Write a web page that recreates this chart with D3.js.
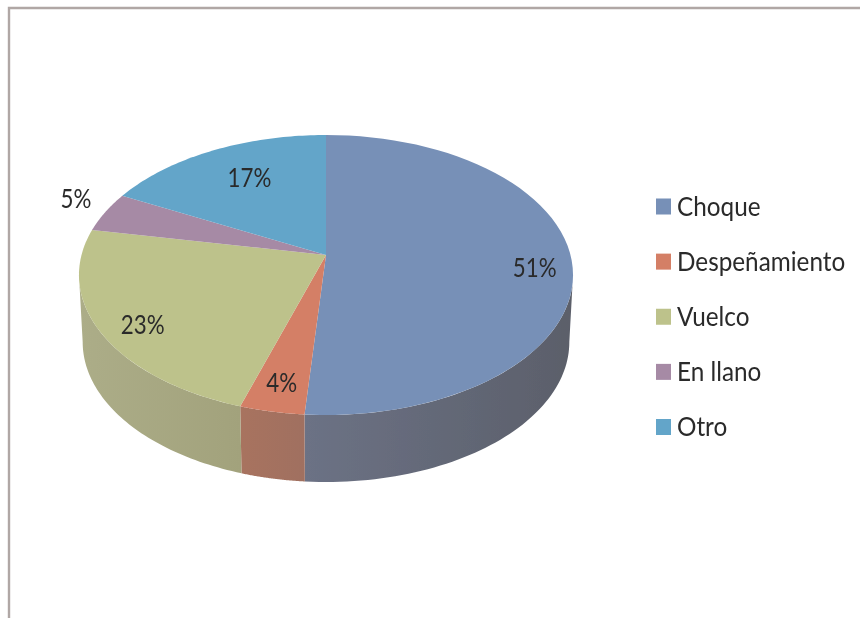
<!DOCTYPE html>
<html><head><meta charset="utf-8">
<script src="https://cdn.jsdelivr.net/npm/d3@7"></script>
<style>html,body{margin:0;padding:0;background:#fff}svg{display:block}
text{font-family:Lato,"Open Sans",sans-serif;fill:#2a2a2a}</style>
</head><body><svg id="c" width="860" height="618"></svg>
<script>
const categories = ["Choque","Despeñamiento","Vuelco","En llano","Otro"];
const values = [51.2,3.7,23.1,4.6,17.4];
const labels = ["51%","4%","23%","5%","17%"];
const colors = ["#7790b7","#d47f66","#bdc28b","#a68aa5","#63a5c9"];
const sideLeft = ["#6c7285","#a8735f","#acad88","#8d7a8c","#558da9"];
const sideRight = ["#5b5f6a","#a07060","#a2a27c","#8d7a8c","#558da9"];
const labelRadial = [0.85,0.84,0.82,1.14,0.65];
const labelShift = [8,0,9,-8,-7];

const svg = d3.select("#c");
const cx = 326, cy = 255, a = 244.5, b = 137.14, k = 1/7, depth = 67, shrink = 0.985;
const TAU = 2*Math.PI;
const proj = (t, r=1) => {
  const c = Math.cos(t), s = Math.sin(t), d = 1 + k*r*c;
  return [cx + a*r*s/d, cy - b*r*c/d];
};
const projB = t => {
  const c = Math.cos(t), s = Math.sin(t), d = 1 + k*c;
  return [cx + shrink*a*s/d, cy + depth - b*c/d];
};
const samples = (t0,t1,f) => d3.range(0,61).map(i => f(t0+(t1-t0)*i/60));
const line = d3.line();
const arcs = d3.pie().sort(null)(values);
const tanR = Math.acos(-k), tanL = TAU - tanR;

const defs = svg.append("defs");
const blur = defs.append("filter").attr("id","soft").attr("x","-5%").attr("y","-5%").attr("width","110%").attr("height","110%");
blur.append("feGaussianBlur").attr("stdDeviation",0.5);

const root = svg.append("g").attr("filter","url(#soft)");
root.append("path").attr("d","M9,618V8H860").attr("fill","none").attr("stroke","#b0a7a5").attr("stroke-width",2.4);

arcs.forEach((d,i) => {
  const t0 = Math.max(d.startAngle, tanR), t1 = Math.min(d.endAngle, tanL);
  if (t1 <= t0) return;
  const top = samples(t0,t1,proj), bot = samples(t0,t1,projB).reverse();
  const xs = top.concat(bot).map(p=>p[0]);
  const g = defs.append("linearGradient").attr("id","side"+i).attr("gradientUnits","userSpaceOnUse")
    .attr("x1",d3.min(xs)).attr("x2",d3.max(xs)).attr("y1",0).attr("y2",0);
  g.append("stop").attr("offset",0).attr("stop-color",sideLeft[i]);
  g.append("stop").attr("offset",1).attr("stop-color",sideRight[i]);
  root.append("path").attr("d",line(top.concat(bot))+"Z").attr("fill",`url(#side${i})`);
});
arcs.forEach((d,i) => {
  root.append("path").attr("d",line([[cx,cy],...samples(d.startAngle,d.endAngle,proj)])+"Z").attr("fill",colors[i]);
});
const putText = (x,y,txt,anchor,sx) => root.append("text")
  .attr("transform",`translate(${x},${y}) scale(${sx},1)`)
  .attr("dy","0.35em").attr("text-anchor",anchor).attr("font-size",26).text(txt);
arcs.forEach((d,i) => {
  const p = proj((d.startAngle+d.endAngle)/2, labelRadial[i]);
  putText(p[0],p[1]+labelShift[i],labels[i],"middle",0.86);
});
const legendY = d3.scalePoint().domain(categories).range([206.5,427]);
categories.forEach((c,i) => {
  const y = legendY(c);
  root.append("rect").attr("x",656).attr("y",y-8).attr("width",15).attr("height",16).attr("fill",colors[i]);
  putText(677,y,c,"start",0.935);
});
</script></body></html>
